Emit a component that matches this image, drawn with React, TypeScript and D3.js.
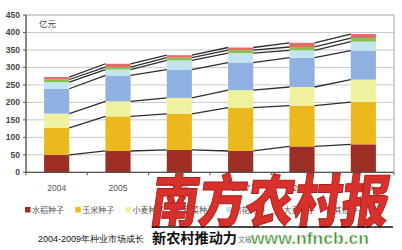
import React from "react";
import * as d3 from "d3";

const years = ["2004", "2005", "2006", "2007", "2008", "2009"];
const seriesNames = ["水稻种子", "玉米种子", "小麦种子", "蔬菜种子", "棉花种子", "大豆种子", "其他种子"];
const rice = [50, 61, 64, 61, 74, 80];
const corn = [77, 99, 103, 124, 117, 121];
const wheat = [41, 43, 46, 50, 53, 64];
const vegetable = [71, 74, 81, 79, 84, 83];
const cotton = [19, 17, 26, 27, 21, 26];
const soybean = [7.5, 7, 8, 8.5, 9.5, 10];
const other = [7, 9.5, 7, 7.5, 12, 11.5];
const yTicks = [0, 50, 100, 150, 200, 250, 300, 350, 400, 450];
const seriesColors = ["#9c2e25", "#ebb91d", "#eef29e", "#8eb1e2", "#c1e4ed", "#88bf4f", "#e36b68"];

const W = 402, H = 250;
const left = 26, right = 394, top = 15, bottom = 172.3;

export default function App() {
  const seriesValues = [rice, corn, wheat, vegetable, cotton, soybean, other];
  const rows = years.map((y, i) => {
    const r: any = { year: y };
    seriesNames.forEach((n, k) => (r[n] = seriesValues[k][i]));
    return r;
  });
  const stacked = d3.stack().keys(seriesNames)(rows as any);
  const x = d3.scaleBand().domain(years).range([left, right]).paddingInner(0.59).paddingOuter(0.295);
  const y = d3.scaleLinear().domain([0, 450]).range([bottom, top]);
  const bw = x.bandwidth();
  const step = (right - left) / years.length;
  const font = "'Liberation Sans', Arial, sans-serif";
  const cjk = "'Noto Sans CJK SC', sans-serif";

  return (
    <svg width={W} height={H} style={{ position: "absolute", left: 0, top: 0, background: "#fff" }}>
      <rect x={0} y={0} width={W} height={H} fill="#fff" />
      {yTicks.filter(t => t > 0 && t < 450).map(t => (
        <line key={"g" + t} x1={left} x2={right} y1={y(t)} y2={y(t)} stroke="#c9c9c9" strokeWidth={1} />
      ))}
      <rect x={left} y={top} width={right - left} height={bottom - top} fill="none" stroke="#a8a8a8" strokeWidth={1} />
      {stacked.map((s, k) => (
        <g key={"s" + k}>
          {s.map((d, i) => (
            <rect key={i} x={x(years[i])!} y={y(d[1])} width={bw} height={y(d[0]) - y(d[1])} fill={seriesColors[k]} />
          ))}
        </g>
      ))}
      {stacked.map((s, k) => (
        <g key={"l" + k}>
          {s.slice(0, -1).map((d, i) => (
            <line key={i} x1={x(years[i])! + bw} y1={y(d[1])} x2={x(years[i + 1])!} y2={y(s[i + 1][1])}
              stroke="#2e2e2e" strokeWidth={1.3} />
          ))}
        </g>
      ))}
      <line x1={left} x2={left} y1={top} y2={bottom} stroke="#555" strokeWidth={1.2} />
      <line x1={left} x2={right} y1={bottom} y2={bottom} stroke="#555" strokeWidth={1.2} />
      {yTicks.map(t => (
        <g key={"yt" + t}>
          <line x1={left - 3} x2={left} y1={y(t)} y2={y(t)} stroke="#555" />
          <text x={20} y={y(t)} dy="0.35em" textAnchor="end" fontFamily={font} fontSize={8.5} fontWeight="bold" fill="#444">{t}</text>
        </g>
      ))}
      {d3.range(years.length + 1).map(i => (
        <line key={"xt" + i} x1={left + step * i} x2={left + step * i} y1={bottom} y2={bottom + 3} stroke="#555" />
      ))}
      {years.map(yr => (
        <text key={"xl" + yr} x={x(yr)! + bw / 2} y={191} textAnchor="middle" fontFamily={font} fontSize={8.5} fill="#555">{yr}</text>
      ))}
      <text x={39} y={27} fontFamily={cjk} fontSize={8.5} fill="#444">亿元</text>
      {seriesNames.map((n, k) => (
        <g key={"lg" + k} transform={`translate(${25 + 50.3 * k},210)`}>
          <rect x={0} y={-3} width={5.5} height={5.5} fill={seriesColors[k]} />
          <text x={7} y={0} dy="0.35em" fontFamily={cjk} fontSize={8} fill="#555">{n}</text>
        </g>
      ))}
      <text x={38} y={241.5} fontFamily={font} fontSize={9} fill="#111">2004-2009年种业市场成长</text>
      <text x={150} y={222} fontFamily={cjk} fontSize={57} fontWeight={900} fill="#d8302a" stroke="#a8201c" strokeWidth={1}
        textLength={238} lengthAdjust="spacingAndGlyphs" transform="skewX(-8) translate(30,0)">南方农村报</text>
      <line x1={152} x2={393} y1={227} y2={227} stroke="#111" strokeWidth={1.5} />
      <rect x={150} y={229} width={250} height={21} fill="#fff" />
      <text x={152} y={243} fontFamily={cjk} fontSize={14} fontWeight="bold" fill="#111" textLength={85} lengthAdjust="spacingAndGlyphs">新农村推动力</text>
      <text x={238} y={242} fontFamily={cjk} fontSize={7} fill="#777">文椒</text>
      <text x={251} y={244} fontFamily={font} fontSize={16} fontWeight="bold" fill="#3d8a2c" stroke="#e8f3e3" strokeWidth={0.6}
        textLength={118} lengthAdjust="spacingAndGlyphs">www.nfncb.cn</text>
    </svg>
  );
}
